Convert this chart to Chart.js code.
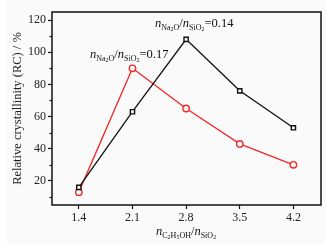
<!DOCTYPE html>
<html>
<head>
<meta charset="utf-8">
<script src="https://cdn.jsdelivr.net/npm/chart.js@4"></script>
<style>
  body { margin: 0; background: #fff; }
  #wrap { position: relative; width: 331px; height: 250px; overflow: hidden; }
  #bg { position: absolute; left: 7px; top: 0; width: 319px; height: 244px; background: #fafafa; }
  canvas { position: absolute; left: 0; top: 0; }
  .lbl { position: absolute; font-family: 'Liberation Serif', serif; font-size: 12.5px; color: #111; white-space: nowrap; line-height: 1; }
  .lbl i { font-style: italic; }
  .lbl sub { font-size: 8px; vertical-align: -3px; line-height: 0; }
  .lbl sub sub { font-size: 6px; vertical-align: -1px; }
</style>
</head>
<body>
<div id="wrap">
  <div id="bg"></div>
  <canvas id="chart" width="331" height="250"></canvas>
  <div class="lbl" style="left:155px; top:17px;"><i>n</i><sub>Na<sub>2</sub>O</sub>/<i>n</i><sub>SiO<sub>2</sub></sub>=0.14</div>
  <div class="lbl" style="left:90px; top:48px;"><i>n</i><sub>Na<sub>2</sub>O</sub>/<i>n</i><sub>SiO<sub>2</sub></sub>=0.17</div>
  <div class="lbl" style="left:156px; top:225px;"><i>n</i><sub>C<sub>2</sub>H<sub>5</sub>OH</sub>/<i>n</i><sub>SiO<sub>2</sub></sub></div>
</div>
<script>
// ethanol / silica ratio
const ratios = [1.4, 2.1, 2.8, 3.5, 4.2];
// relative crystallinity (%)
const rc014 = [16, 63, 108, 76, 53];
const rc017 = [13, 90, 65, 43, 30];
const yTicks = [10, 20, 30, 40, 50, 60, 70, 80, 90, 100, 110, 120];

const font = { family: "'Liberation Serif', serif", size: 12 };

// box around the plot area + short minor ticks on y
const frame = {
    id: 'frame',
    afterDraw(chart) {
        const a = chart.chartArea;
        const ctx = chart.ctx;
        const y = chart.scales.y;
        ctx.save();
        ctx.strokeStyle = '#111';
        ctx.lineWidth = 1.2;
        yTicks.filter(v => v % 20 !== 0).forEach(v => {
            const py = Math.round(y.getPixelForValue(v)) + 0.5;
            ctx.beginPath();
            ctx.moveTo(a.left - 2.5, py);
            ctx.lineTo(a.left, py);
            ctx.stroke();
        });
        ctx.lineWidth = 1.5;
        ctx.strokeRect(a.left, a.top, a.right - a.left, a.bottom - a.top);
        ctx.restore();
    }
};

new Chart(document.getElementById('chart'), {
    type: 'line',
    data: {
        datasets: [{
            data: ratios.map((x, i) => ({ x: x, y: rc014[i] })),
            borderColor: '#111',
            borderWidth: 1.3,
            pointStyle: 'rect',
            pointRadius: 3,
            pointBorderWidth: 1.4,
            pointBorderColor: '#111',
            pointBackgroundColor: '#fafafa',
            tension: 0
        }, {
            data: ratios.map((x, i) => ({ x: x, y: rc017[i] })),
            borderColor: '#f02828',
            borderWidth: 1.3,
            pointStyle: 'circle',
            pointRadius: 3.2,
            pointBorderWidth: 1.4,
            pointBorderColor: '#f02828',
            pointBackgroundColor: '#fafafa',
            tension: 0
        }]
    },
    options: {
        responsive: false,
        devicePixelRatio: 1,
        animation: false,
        layout: { padding: { top: 12, right: 10, left: 0, bottom: 0 } },
        plugins: {
            legend: { display: false },
            tooltip: { enabled: false }
        },
        scales: {
            x: {
                type: 'linear',
                min: 1.05,
                max: 4.56,
                afterBuildTicks: s => { s.ticks = ratios.map(v => ({ value: v })); },
                afterFit: s => { s.height = 45; },
                ticks: {
                    font: font,
                    color: '#222',
                    padding: 2,
                    maxRotation: 0,
                    autoSkip: false,
                    callback: v => v.toFixed(1)
                },
                grid: { drawOnChartArea: false, tickLength: 4, tickColor: '#111', tickWidth: 1.2 },
                border: { display: false }
            },
            y: {
                min: 5,
                max: 125,
                afterBuildTicks: s => { s.ticks = yTicks.map(v => ({ value: v })); },
                afterFit: s => { s.width = 52; },
                ticks: {
                    font: font,
                    color: '#222',
                    padding: 2,
                    callback: v => (v % 20 === 0 ? v : '')
                },
                grid: {
                    drawOnChartArea: false,
                    tickLength: 4,
                    tickWidth: 1.2,
                    tickColor: c => (c.tick && c.tick.value % 20 === 0 ? '#111' : 'rgba(0,0,0,0)')
                },
                border: { display: false },
                title: {
                    display: true,
                    text: 'Relative crystallinity (RC) / %',
                    font: { family: "'Liberation Serif', serif", size: 12.5 },
                    color: '#222',
                    padding: { top: 10, bottom: 0 }
                }
            }
        }
    },
    plugins: [frame]
});
</script>
</body>
</html>
